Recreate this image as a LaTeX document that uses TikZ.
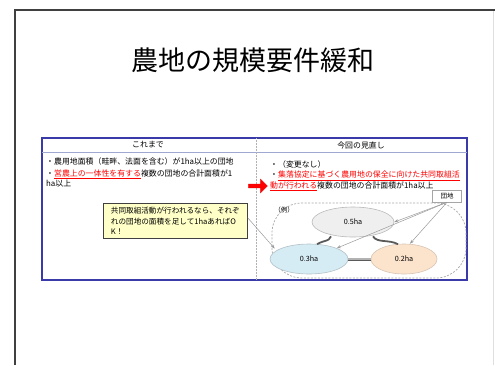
\documentclass[tikz,border=0pt]{standalone}
\usepackage{fontspec}
\setmainfont{Noto Sans CJK JP}
\usetikzlibrary{shapes.geometric,shapes.arrows,arrows.meta}
\definecolor{frameblue}{HTML}{3A3AA8}
\definecolor{headline}{HTML}{9FA8D0}
\definecolor{calloutfill}{HTML}{FFFFC8}
\definecolor{fivefill}{HTML}{EFEFEF}
\definecolor{threefill}{HTML}{D6ECF5}
\definecolor{twofill}{HTML}{FCE3CC}
\definecolor{linkgray}{HTML}{5A5A5A}
\tikzset{
  small/.style={font=\fontsize{7.9}{10}\selectfont, inner sep=0pt},
  txt/.style={small, anchor=west},
  field/.style={ellipse, draw=#1, line width=0.6pt, minimum height=30pt, font=\fontsize{7.2}{9}\selectfont},
  link/.style={draw=linkgray, line width=1.8pt},
  ptr/.style={draw=gray!80, line width=0.5pt, -{Stealth[length=4pt,width=3pt]}},
}
\begin{document}
\begin{tikzpicture}[x=1pt,y=-1pt]
\useasboundingbox (0,0) rectangle (495,365);
% slide frame
\draw[gray!25, line width=0.8pt] (493,10) -- (493,365);
\draw[black!75, line width=1.5pt] (15,365) -- (15,10) -- (495,10);
% title
\node[font=\fontsize{27}{30}\selectfont, inner sep=0pt] (title) at (253,60) {農地の規模要件緩和};
% main table
\draw[frameblue, line width=1.4pt] (42,138) rectangle (467,280);
\draw[headline, line width=0.6pt] (42,152) -- (467,152);
\draw[gray!60, line width=0.5pt, densely dotted] (256,138) -- (256,280);
\node[small] (hl) at (148,145) {これまで};
\node[small] (hr) at (361,145) {今回の見直し};
% left column
\node[txt] (l1) at (46,161) {・農用地面積（畦畔、法面を含む）が1ha以上の団地};
\node[txt] (l2) at (46,174) {・{\color{red}\underline{営農上の一体性を有する}}複数の団地の合計面積が1};
\node[txt] (l3) at (46,184) {ha以上};
% right column
\node[txt] (r1) at (270,164) {・（変更なし）};
\node[txt] (r2) at (270,176) {・{\color{red}\underline{集落協定に基づく農用地の保全に向けた共同取組活}}};
\node[txt] (r3) at (270,186.5) {{\color{red}\underline{動が行われる}}複数の団地の合計面積が1ha以上};
% red arrow
\node[single arrow, fill=red, draw=red!80!black, line width=0.3pt, minimum height=19pt, minimum width=14pt, single arrow head extend=3pt, inner sep=1pt] (ra) at (257,186) {};
% example region
\node[draw=gray!70, dashed, dash pattern=on 2pt off 1.5pt, line width=0.7pt, rounded corners=30pt, minimum width=194pt, minimum height=75pt] (ex) at (369,240.5) {};
\node[small, font=\fontsize{6.5}{8}\selectfont] (rei) at (284,210) {（例）};
% fields
\node[field=gray!55, fill=fivefill, minimum width=82pt] (e5) at (353,222) {0.5ha};
\node[field=threefill!60!gray, fill=threefill, minimum width=78pt] (e3) at (309,259) {0.3ha};
\node[field=twofill!70!gray, fill=twofill, minimum width=66pt] (e2) at (404,259) {0.2ha};
% links between fields
\draw[link] ([xshift=-22pt,yshift=1pt]e5.south) .. controls ++(-3,6) and ++(9,-5) .. ([xshift=8pt,yshift=-0.5pt]e3.north);
\draw[link] ([xshift=20pt,yshift=1pt]e5.south) .. controls ++(4,7) and ++(-9,-5) .. ([xshift=-6pt,yshift=-0.5pt]e2.north);
\draw[linkgray, line width=0.7pt, double=gray!60, double distance=1.6pt] (e3.east) -- (e2.west);
% 団地 label
\node[draw=gray!70, fill=white, line width=0.5pt, minimum width=29pt, minimum height=12pt, font=\fontsize{6.5}{8}\selectfont, inner sep=0pt] (dan) at (447,196) {団地};
\draw[ptr] (dan.south) -- (e5.east);
\draw[ptr] (dan.south) -- (e3.north east);
\draw[ptr] (dan.south) -- ([xshift=6pt]e2.north);
% callout
\node[draw=black!75, fill=calloutfill, line width=0.8pt, minimum width=144pt, minimum height=35pt, align=left, font=\fontsize{7.6}{10.4}\selectfont, inner sep=3pt, anchor=north west] (call) at (103,203) {共同取組活動が行われるなら、それぞ\\れの団地の面積を足して1haあればO\\K！};
\draw[ptr] ([yshift=3pt]call.east) -- ([xshift=3pt,yshift=-8pt]ex.west);
\end{tikzpicture}
\end{document}
